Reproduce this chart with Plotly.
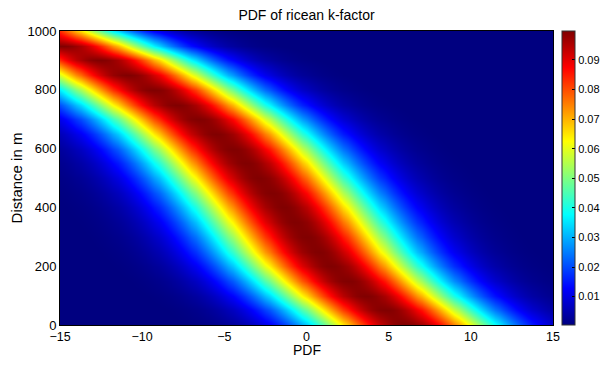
import numpy as np
import plotly.graph_objects as go

distance_m = [0, 50, 100, 150, 200, 250, 300, 350, 400, 450, 500,
              550, 600, 650, 700, 750, 800, 850, 900, 950, 1000]
mean_k_db = [6.0, 4.8, 3.6, 2.5, 1.5, 0.7, 0.0, -0.7, -1.4, -2.1, -2.9,
             -3.7, -4.5, -5.5, -6.6, -7.9, -9.3, -10.9, -12.6, -14.9, -17.4]
std_k_db = 4.0

# k-factor axis samples
k_values = np.arange(-15, 15.0001, 0.25)

# Gaussian PDF of the k-factor at each distance
mu = np.array(mean_k_db)[:, None]
pdf = np.exp(-((k_values[None, :] - mu) ** 2) / (2 * std_k_db ** 2)) / (np.sqrt(2 * np.pi) * std_k_db)

colorbar_ticks = [0.01, 0.02, 0.03, 0.04, 0.05, 0.06, 0.07, 0.08, 0.09]

# MATLAB-style jet colormap
jet = [
    [0.0, "rgb(0,0,128)"],
    [0.125, "rgb(0,0,255)"],
    [0.375, "rgb(0,255,255)"],
    [0.625, "rgb(255,255,0)"],
    [0.875, "rgb(255,0,0)"],
    [1.0, "rgb(128,0,0)"],
]

font = "Liberation Sans, Arial, sans-serif"

# the page body adds an 8px margin; keep the figure small enough to avoid scrollbars
W, H = 592, 349

fig = go.Figure(
    go.Heatmap(
        x=k_values,
        y=distance_m,
        z=pdf,
        colorscale=jet,
        zsmooth="best",
        zmin=0.0004,
        zmax=0.0998,
        colorbar=dict(
            x=1.0183,
            xanchor="left",
            xpad=0,
            y=0.5,
            yanchor="middle",
            ypad=0,
            len=1.0,
            lenmode="fraction",
            thickness=13,
            outlinewidth=1,
            outlinecolor="#333333",
            tickvals=colorbar_ticks,
            ticktext=[f"{t:.2f}" for t in colorbar_ticks],
            ticks="inside",
            ticklen=3,
            tickcolor="black",
            tickfont=dict(family=font, size=11, color="black"),
        ),
    )
)

fig.update_layout(
    width=W,
    height=H,
    margin=dict(l=52, r=47, t=23, b=32, autoexpand=False),
    paper_bgcolor="white",
    plot_bgcolor="white",
    title=dict(
        text="PDF of ricean k-factor",
        x=0.5,
        xref="paper",
        y=1 - 7 / H,
        yref="container",
        yanchor="middle",
        font=dict(family=font, size=14, color="black"),
    ),
    font=dict(family=font, size=12, color="black"),
    annotations=[
        dict(
            text="PDF",
            x=0.5,
            xref="paper",
            y=-34 / 294,
            yref="paper",
            xanchor="center",
            yanchor="bottom",
            borderpad=0,
            showarrow=False,
            font=dict(family=font, size=14, color="black"),
        )
    ],
)

fig.update_xaxes(
    range=[-15, 15],
    tickvals=[-15, -10, -5, 0, 5, 10, 15],
    showline=True,
    linecolor="black",
    linewidth=1,
    mirror=True,
    ticks="",
    ticklabelstandoff=0,
    showgrid=False,
    zeroline=False,
    tickfont=dict(family=font, size=12.5, color="black"),
)
fig.update_yaxes(
    range=[0, 1000],
    tickvals=[0, 200, 400, 600, 800, 1000],
    title=dict(text="Distance in m", font=dict(family=font, size=15, color="black"), standoff=4),
    showline=True,
    linecolor="black",
    linewidth=1,
    mirror=True,
    ticks="",
    showgrid=False,
    zeroline=False,
    tickfont=dict(family=font, size=13, color="black"),
)

fig.write_html("out.html")
